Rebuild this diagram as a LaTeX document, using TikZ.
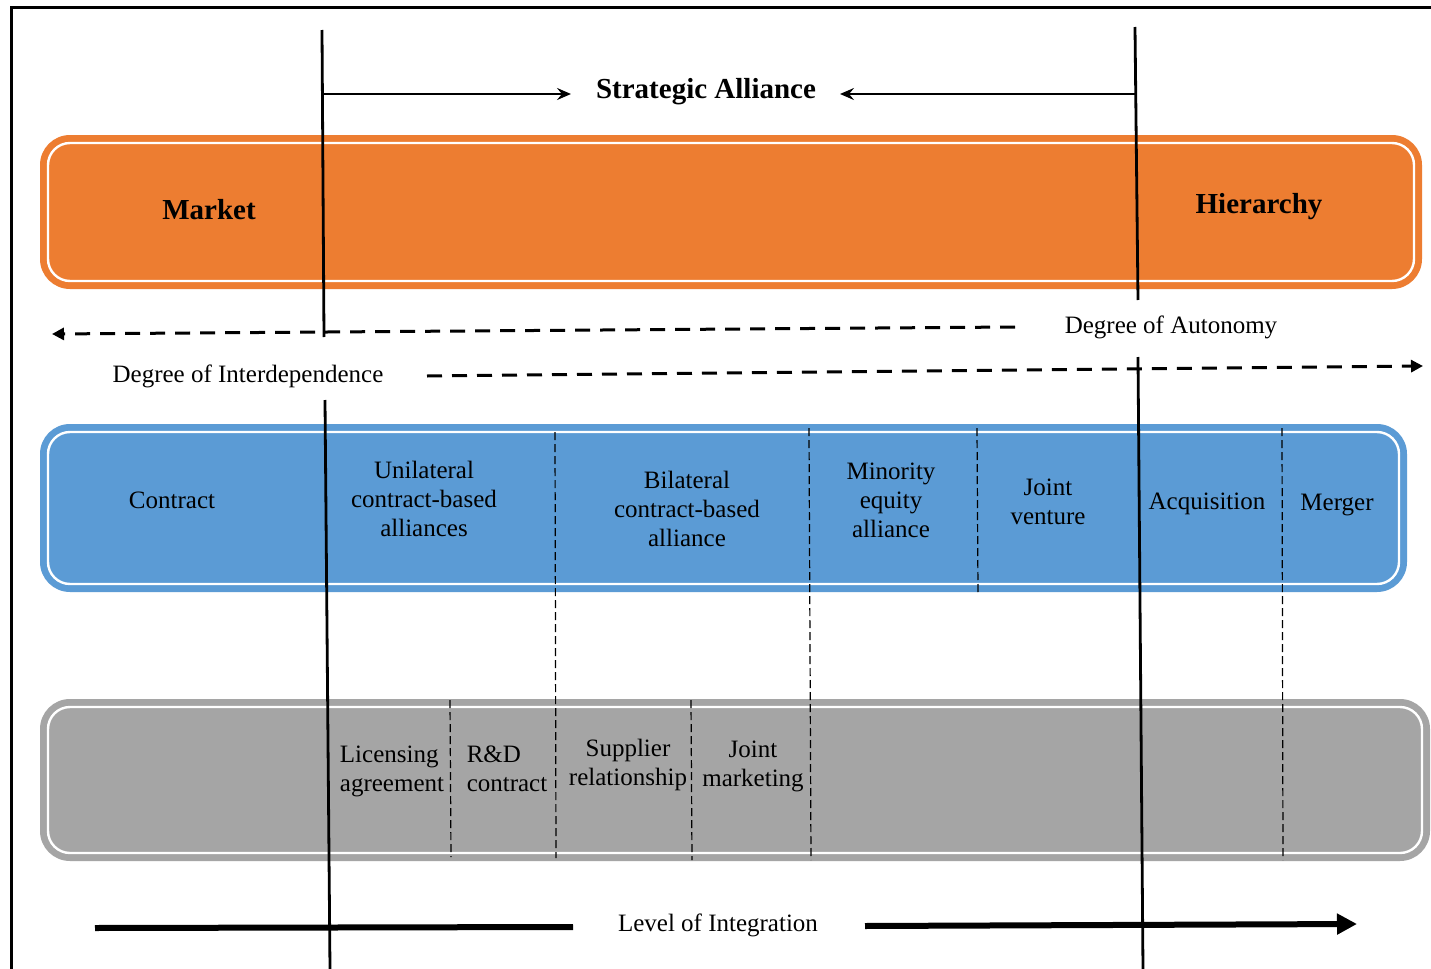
\documentclass[tikz,border=0pt]{standalone}
\usepackage{fontspec}
\setmainfont{Liberation Serif}
\usetikzlibrary{arrows.meta}
\definecolor{orangeC}{HTML}{ED7D31}
\definecolor{blueC}{HTML}{5B9BD5}
\definecolor{greyC}{HTML}{A5A5A5}
\tikzset{
 lbl/.style={font=\fontsize{12.5}{14.5}\selectfont, align=center, inner sep=0pt},
 blbl/.style={font=\fontsize{14.5}{17}\selectfont\bfseries, inner sep=0pt},
 vline/.style={line width=1.4pt},
 divider/.style={line width=0.6pt, dash pattern=on 4pt off 2pt},
 dasharrow/.style={line width=1.5pt, dash pattern=on 7.5pt off 5pt, -{Triangle[length=6pt,width=6pt]}},
 saarrow/.style={line width=1.3pt, -{Stealth[length=7pt,width=6pt,inset=2.5pt]}},
 band/.style={rounded corners=15pt},
 innerline/.style={draw=white, line width=1.2pt, rounded corners=11pt},
}
\begin{document}
\begin{tikzpicture}[x=0.5pt,y=-0.5pt]
\useasboundingbox (0,0) rectangle (1431,969);
\fill[white] (0,0) rectangle (1431,969);
% frame
\draw[line width=1.5pt] (11,969) -- (11,7) -- (1431,7);
% bands
\fill[orangeC, band] (40,135) rectangle (1422,289);
\draw[innerline] (48,143) rectangle (1414,281);
\fill[blueC, band] (40,424) rectangle (1407,592);
\draw[innerline] (48,432) rectangle (1399,584);
\fill[greyC, band] (40,699) rectangle (1430,861);
\draw[innerline] (48,707) rectangle (1422,853);
% dividers
\draw[divider] (555,432) -- (556,858);
\draw[divider] (809,428) -- (811,860);
\draw[divider] (977,428) -- (978,592);
\draw[divider] (1282,428) -- (1283,860);
\draw[divider] (450,700) -- (451,857);
\draw[divider] (691,700) -- (692,860);
% vertical lines
\coordinate (L1) at (322,30); \coordinate (L2) at (324,337);
\coordinate (L3) at (325,400); \coordinate (L4) at (330,969);
\coordinate (R1) at (1135,27); \coordinate (R2) at (1138,300);
\coordinate (R3) at (1138,357); \coordinate (R4) at (1143,969);
\draw[vline] (L1) -- (L2);
\draw[vline] (L3) -- (L4);
\draw[vline] (R1) -- (R2);
\draw[vline] (R3) -- (R4);
% strategic alliance
\node[blbl] (SA) at (706,92) {Strategic Alliance};
\coordinate (saL) at (323,94); \coordinate (saLend) at (571,94);
\coordinate (saR) at (1136,94); \coordinate (saRend) at (840,94);
\draw[saarrow] (saL) -- (saLend);
\draw[saarrow] (saR) -- (saRend);
% band labels
\node[blbl] (market) at (209,210) {Market};
\node[blbl] (hier) at (1259,207) {Hierarchy};
% dashed arrows
\node[lbl] (auto) at (1171,327) {Degree of Autonomy};
\node[lbl] (inter) at (248,376) {Degree of Interdependence};
\coordinate (d1s) at (1015,327); \coordinate (d1e) at (52,334);
\coordinate (d2s) at (427,376); \coordinate (d2e) at (1423,366);
\draw[dasharrow] (d1s) -- (d1e);
\draw[dasharrow] (d2s) -- (d2e);
% blue labels
\node[lbl] (contract) at (172,500) {Contract};
\node[lbl] (unil) at (424,499) {Unilateral\\contract-based\\alliances};
\node[lbl] (bil) at (687,509) {Bilateral\\contract-based\\alliance};
\node[lbl] (minor) at (891,500) {Minority\\equity\\alliance};
\node[lbl] (jv) at (1048,502) {Joint\\venture};
\node[lbl] (acq) at (1207,504) {Acquisition};
\node[lbl] (merger) at (1337,505) {Merger};
% grey labels
\node[lbl, align=left] (lic) at (392,771) {Licensing\\agreement};
\node[lbl, align=left] (rd) at (507,769) {R\&D\\contract};
\node[lbl] (supp) at (628,765) {Supplier\\relationship};
\node[lbl] (jm) at (753,766) {Joint\\marketing};
% level of integration
\node[lbl] (level) at (718,925) {Level of Integration};
\coordinate (b1s) at (95,928); \coordinate (b1e) at (573,927);
\coordinate (b2s) at (865,926); \coordinate (b2e) at (1357,924);
\draw[line width=3pt] (b1s) -- (b1e);
\draw[line width=3pt, -{Triangle[length=10pt,width=10pt]}] (b2s) -- (b2e);
\end{tikzpicture}
\end{document}
